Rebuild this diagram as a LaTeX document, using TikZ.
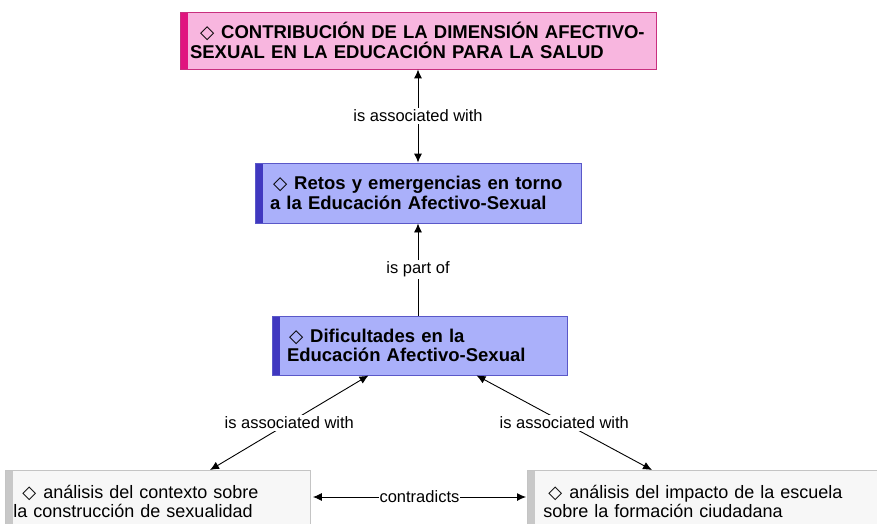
\documentclass[tikz,border=0pt]{standalone}
\usepackage{fontspec}
\setmainfont{Liberation Sans}
\newfontfamily\djvfont{DejaVu Sans}
\usetikzlibrary{arrows.meta}
\definecolor{pinkfill}{HTML}{F8B6DF}
\definecolor{pinkline}{HTML}{C8307F}
\definecolor{pinkbar}{HTML}{E0157F}
\definecolor{bluefill}{HTML}{AAB0FA}
\definecolor{blueline}{HTML}{5A58C8}
\definecolor{bluebar}{HTML}{4038C0}
\definecolor{grayfill}{HTML}{F7F7F7}
\definecolor{grayline}{HTML}{C4C4C4}
\definecolor{graybar}{HTML}{C8C8C8}
\newcommand{\dia}{{\djvfont\char"25C7}\hspace{7pt}}
\tikzset{
  x=1pt,y=-1pt,
  box/.style={draw=#1line, fill=#1fill, line width=0.9pt, rectangle, align=left,
    path picture={\fill[#1bar] (path picture bounding box.north west) rectangle ([xshift=8pt]path picture bounding box.south west);}},
  bold/.style={font=\fontsize{18.5}{19.5}\selectfont\bfseries},
  norm/.style={font=\fontsize{18}{19.5}\selectfont},
  lbl/.style={fill=white, inner sep=2pt, font=\fontsize{16.5}{18}\selectfont},
  arr/.style={line width=0.9pt, -{Latex[length=9pt,width=8pt]}},
  darr/.style={line width=0.9pt, {Latex[length=9pt,width=8pt]}-{Latex[length=9pt,width=8pt]}},
}
\begin{document}
\begin{tikzpicture}
\useasboundingbox[fill=white] (0,0) rectangle (877,524);
\node[box=pink, bold, minimum width=476pt, minimum height=57pt, text width=460pt, inner xsep=8pt] (c) at (418,40.5)
  {\hspace*{12pt}\dia CONTRIBUCIÓN DE LA DIMENSIÓN AFECTIVO-\\\hspace*{2pt}SEXUAL EN LA EDUCACIÓN PARA LA SALUD};
\node[box=blue, bold, minimum width=326pt, minimum height=60pt, text width=310pt, inner xsep=8pt] (r) at (418,193)
  {\hspace*{10pt}\dia Retos y emergencias en torno\\\hspace*{7pt}a la Educación Afectivo-Sexual};
\node[box=blue, bold, minimum width=295pt, minimum height=59pt, text width=279pt, inner xsep=8pt] (d) at (419.5,345.5)
  {\hspace*{9pt}\dia Dificultades en la\\\hspace*{7pt}Educación Afectivo-Sexual};
\node[box=gray, norm, minimum width=305pt, minimum height=62pt, text width=289pt, inner xsep=8pt, anchor=north west] (a) at (5,470)
  {\hspace*{9pt}\dia análisis del contexto sobre\\la construcción de sexualidad};
\node[box=gray, norm, minimum width=355pt, minimum height=62pt, text width=339pt, inner xsep=8pt, anchor=north west] (b) at (527,470)
  {\hspace*{13pt}\dia análisis del impacto de la escuela\\\hspace*{8pt}sobre la formación ciudadana};
\draw[darr] (c.south) -- node[lbl]{is associated with} (r.north);
\draw[arr] (d.north -| r.south) -- node[lbl]{is part of} (r.south);
\draw[darr] ([xshift=-51pt]d.south) -- node[lbl, pos=0.5]{is associated with} ([xshift=205pt]a.north west);
\draw[darr] ([xshift=57pt]d.south) -- node[lbl, pos=0.5]{is associated with} ([xshift=125pt]b.north west);
\draw[darr] ([xshift=2pt]a.east |- 0,497) -- node[lbl, inner xsep=1pt]{contradicts} ([xshift=-1pt]b.west |- 0,497);
\end{tikzpicture}
\end{document}
